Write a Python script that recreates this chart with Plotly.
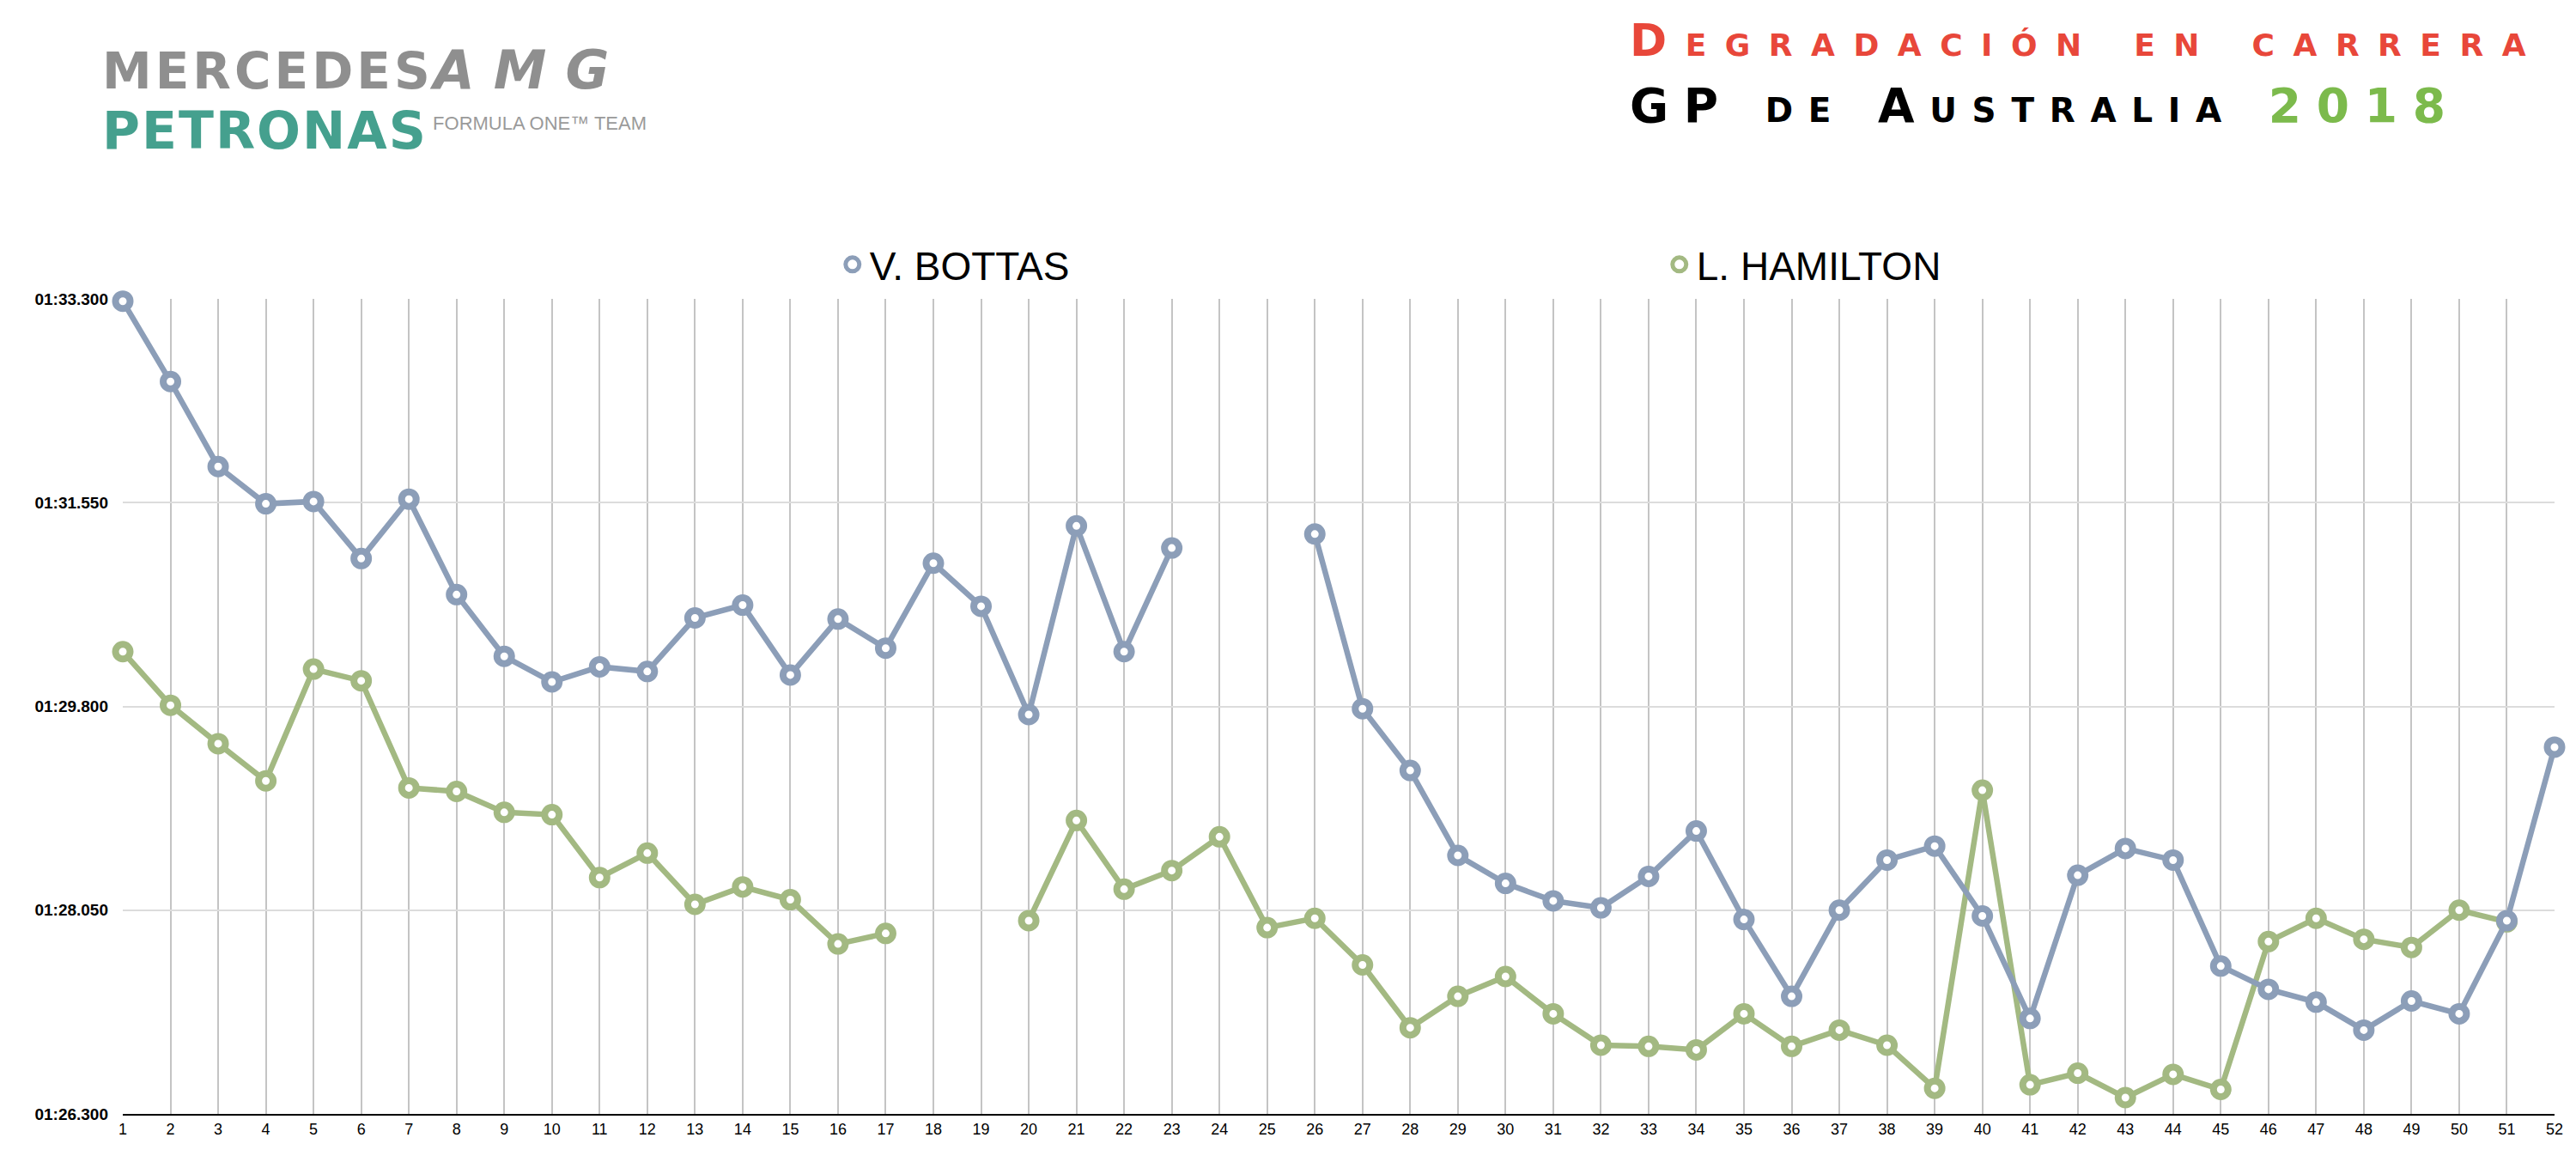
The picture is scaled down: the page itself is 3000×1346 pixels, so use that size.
import plotly.graph_objects as go

# lap times (seconds), None = no lap plotted
laps = list(range(1, 53))
bottas = [93.28, 92.59, 91.86, 91.54, 91.56, 91.07, 91.58, 90.76, 90.23, 90.01,
          90.14, 90.10, 90.56, 90.67, 90.07, 90.55, 90.30, 91.03, 90.66, 89.73,
          91.35, 90.27, 91.16, None, None, 91.28, 89.78, 89.25, 88.52, 88.28,
          88.13, 88.07, 88.34, 88.73, 87.97, 87.31, 88.05, 88.48, 88.60, 88.00,
          87.12, 88.35, 88.58, 88.48, 87.57, 87.37, 87.26, 87.02, 87.27, 87.16,
          87.96, 89.45]
hamilton = [90.27, 89.81, 89.48, 89.16, 90.12, 90.02, 89.10, 89.07, 88.89, 88.87,
            88.33, 88.54, 88.10, 88.25, 88.14, 87.76, 87.85, None, None, 87.96,
            88.82, 88.23, 88.39, 88.68, 87.90, 87.98, 87.58, 87.04, 87.31, 87.48,
            87.16, 86.89, 86.88, 86.85, 87.16, 86.88, 87.02, 86.89, 86.52, 89.08,
            86.55, 86.65, 86.44, 86.64, 86.51, 87.78, 87.98, 87.80, 87.73, 88.05,
            87.95, None]

y_ticks = [86.3, 88.05, 89.8, 91.55, 93.3]
y_labels = ["01:26.300", "01:28.050", "01:29.800", "01:31.550", "01:33.300"]

BLUE = "#8c9eb8"
GREEN = "#a3b982"

fig = go.Figure()


def add_driver(name, times, color):
    fig.add_trace(go.Scatter(
        x=laps, y=times, mode="lines+markers", name=name, showlegend=False,
        line=dict(color=color, width=6.5),
        marker=dict(symbol="circle", size=17, color="white",
                    line=dict(color=color, width=8)),
        cliponaxis=False,
    ))


# hamilton first so bottas sits on top
add_driver("L. HAMILTON", hamilton, GREEN)
add_driver("V. BOTTAS", bottas, BLUE)

# marker-only legend entries
for name, color in [("V. BOTTAS", BLUE), ("L. HAMILTON", GREEN)]:
    fig.add_trace(go.Scatter(
        x=[None], y=[None], mode="markers", name=name,
        marker=dict(symbol="circle", size=16, color="white",
                    line=dict(color=color, width=5)),
    ))

fig.update_xaxes(
    range=[1, 52], tickmode="linear", tick0=1, dtick=1,
    showgrid=True, gridcolor="#c4c4c4", gridwidth=2,
    showline=True, linecolor="black", linewidth=2,
    zeroline=False, ticks="",
    tickfont=dict(family="Liberation Sans", size=18, color="black"),
)
fig.update_yaxes(
    range=[86.3, 93.3], tickmode="array", tickvals=y_ticks, ticktext=y_labels,
    showgrid=True, gridcolor="#dcdcdc", gridwidth=1.5,
    showline=False, zeroline=False, ticks="", ticklabelstandoff=16,
    tickfont=dict(family="Liberation Sans", size=19, color="black", weight="bold"),
)

# title, top right
fig.add_annotation(
    text="<span style='letter-spacing:21.5px'>Degradación en carrera</span>",
    xref="paper", yref="paper", x=0.619, y=1.3171,
    xanchor="left", yanchor="middle", showarrow=False,
    font=dict(family="DejaVu Sans", size=52, color="#e8473a",
              variant="small-caps", weight="bold"),
)
fig.add_annotation(
    text="<span style='letter-spacing:17.7px'>GP de Australia "
         "<span style='color:#7cba4c'>2018</span></span>",
    xref="paper", yref="paper", x=0.619, y=1.2376,
    xanchor="left", yanchor="middle", showarrow=False,
    font=dict(family="DejaVu Sans", size=55, color="black",
              variant="small-caps", weight="bold"),
)

# team logo, top left (one text block)
logo = (
    "<span style='font-size:58px;color:#8f8f8f;letter-spacing:4px'>MERCEDES</span>"
    "<i><span style='font-size:62px;color:#8f8f8f;letter-spacing:22px'>AMG</span></i>"
    "<br>"
    "<span style='font-size:60px;color:#45a08e;letter-spacing:2px'>PETRONAS</span>"
    "<sup><span style='font-size:22px;color:#9a9a9a;font-weight:normal;"
    "font-family:Liberation Sans'> FORMULA ONE™ TEAM</span></sup>"
)
fig.add_annotation(
    text=logo, xref="paper", yref="paper", x=-0.0092, y=1.3214,
    xanchor="left", yanchor="top", align="left", showarrow=False,
    font=dict(family="DejaVu Sans", size=54, color="#8f8f8f", weight="bold"),
)

fig.update_layout(
    width=3000, height=1346,
    margin=dict(l=135, r=33, t=340, b=57),
    paper_bgcolor="white", plot_bgcolor="white",
    legend=dict(
        orientation="h", x=0.293, y=1.0422, xanchor="left", yanchor="middle",
        entrywidth=918, entrywidthmode="pixels",
        font=dict(family="Liberation Sans", size=46, color="black"),
        bgcolor="rgba(0,0,0,0)",
    ),
)

fig.write_html("out.html")
